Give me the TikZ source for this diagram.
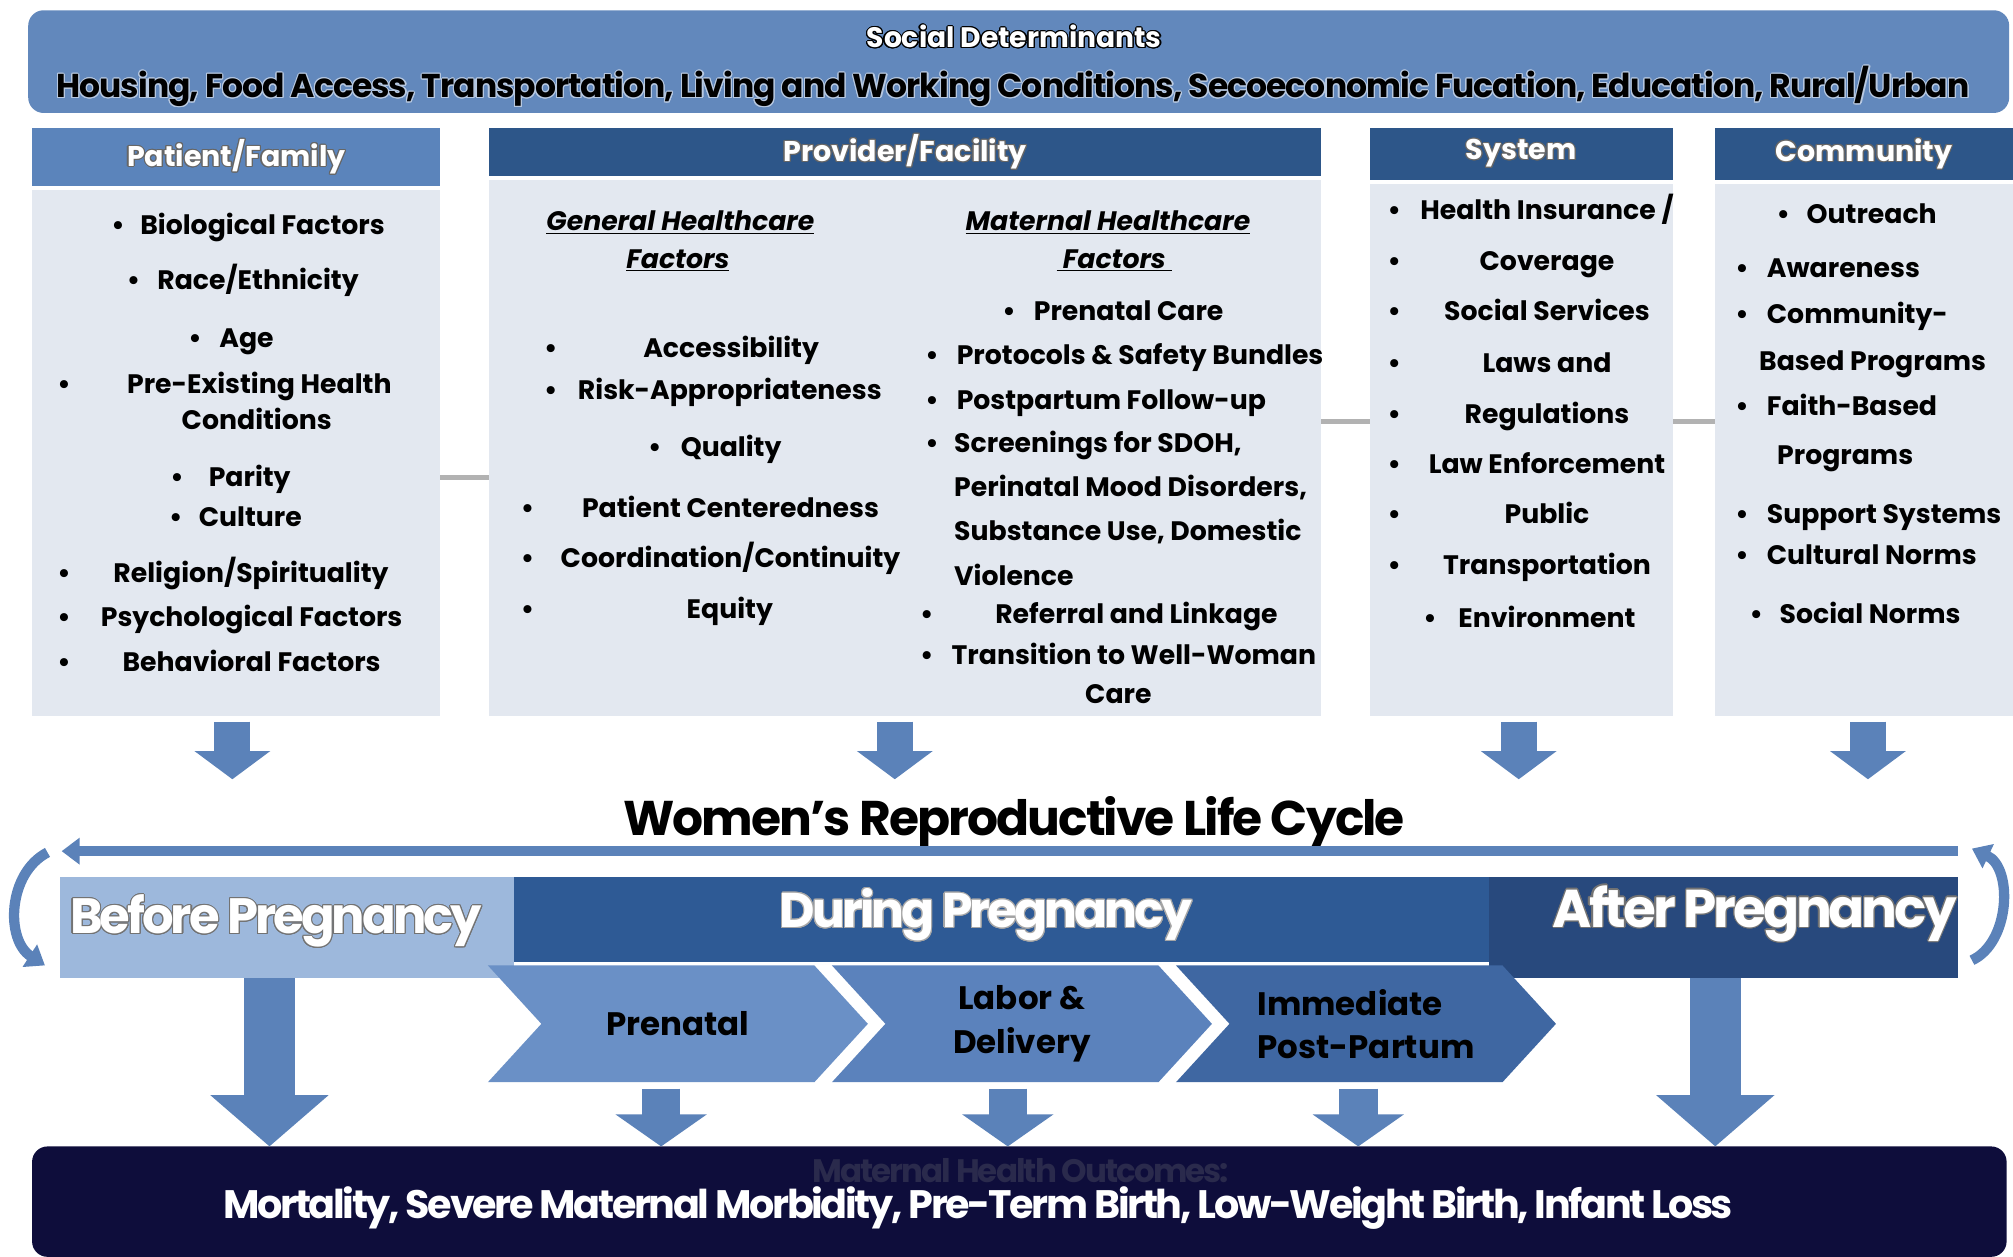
\documentclass[tikz,border=0pt]{standalone}
\usepackage{fontspec}
\setmainfont{Poppins}
\usepackage{contour}
\usetikzlibrary{arrows.meta,shapes.symbols}

\definecolor{banner}{HTML}{6288BC}
\definecolor{pfhead}{HTML}{5B84BB}
\definecolor{colhead}{HTML}{2D5689}
\definecolor{colbody}{HTML}{E3E8F0}
\definecolor{arrowblue}{HTML}{5B82B9}
\definecolor{before}{HTML}{9DB8DC}
\definecolor{during}{HTML}{2E5A95}
\definecolor{after}{HTML}{28497D}
\definecolor{chevA}{HTML}{6A90C6}
\definecolor{chevB}{HTML}{5B82BC}
\definecolor{chevC}{HTML}{3F67A2}
\definecolor{outcome}{HTML}{0E0D3B}
\contourlength{0.6pt}

\begin{document}
\begin{tikzpicture}[x=0.25mm,y=-0.25mm,
    box/.style={inner sep=0pt,outer sep=0pt},
    headbox/.style={box,fill=colhead,minimum height=10mm,text=white,font=\fontsize{15.8}{18}\selectfont\bfseries},
    bodybox/.style={box,fill=colbody},
    item/.style={inner sep=0pt,anchor=base,yshift=-1.7mm,font=\fontsize{14.8}{17}\selectfont\bfseries},
    itemw/.style={item,anchor=base west},
    subhead/.style={item,font=\fontsize{14.8}{17}\selectfont\bfseries\itshape},
    linkdash/.style={draw=gray!60,line width=1mm},
    colarrow/.style={draw=arrowblue,line width=7mm,-{Triangle[width=14.5mm,length=5.5mm]}},
    bigarrow/.style={draw=arrowblue,line width=10mm,-{Triangle[width=22.5mm,length=10mm]}},
    smallarrow/.style={draw=arrowblue,line width=7.5mm,-{Triangle[width=17.5mm,length=6.25mm]}},
    cycleline/.style={draw=arrowblue,line width=2mm,-{Triangle[width=5mm,length=3.5mm]}},
    phasetext/.style={inner sep=0pt,text=white,font=\fontsize{27.5}{30}\selectfont\bfseries\addfontfeatures{LetterSpace=-6}},
    chev/.style={box,signal,signal to=east,signal from=west,signal pointer angle=95,
      minimum width=74mm,minimum height=22.75mm,font=\fontsize{18}{24}\selectfont\bfseries}]

  \fill[white] (0,0) rectangle (1568,979);
  \useasboundingbox (0,0) rectangle (1568,979);

  \node[box,fill=banner,rounded corners=3mm,minimum width=385.75mm,minimum height=20mm] (sd) at (793.5,48) {};
  \node[inner sep=0pt,text=white,font=\fontsize{15.6}{18}\selectfont\bfseries] (sdt) at (790,29) {\contour{black}{Social Determinants}};
  \node[inner sep=0pt,font=\fontsize{18.3}{20}\selectfont\bfseries\addfontfeatures{LetterSpace=-3}] (sdl) at (789,68)
    {\contour{white!55!banner}{Housing, Food Access, Transportation, Living and Working Conditions, Secoeconomic Fucation, Education, Rural/Urban}};

  \node[headbox,fill=pfhead,minimum width=79.5mm,minimum height=11.25mm] (pfh) at (184,122.5) {\contour{black!60}{Patient/Family}};
  \node[bodybox,minimum width=79.5mm,minimum height=102.5mm] (pfb) at (184,353) {};
  \node[headbox,minimum width=162mm,minimum height=9.25mm] (pvh) at (705,118.5) {\contour{black!60}{Provider/Facility}};
  \node[bodybox,minimum width=162mm,minimum height=104.5mm] (pvb) at (705,349) {};
  \node[headbox,minimum width=59mm] (syh) at (1185,120) {\contour{black!60}{System}};
  \node[bodybox,minimum width=59mm,minimum height=103.75mm] (syb) at (1185,350.5) {};
  \node[headbox,minimum width=58mm] (cmh) at (1452,120) {\contour{black!60}{Community}};
  \node[bodybox,minimum width=58mm,minimum height=103.75mm] (cmb) at (1452,350.5) {};

  \draw[linkdash] (pfb.east |- 0,372) -- (pvb.west |- 0,372);
  \draw[linkdash] (pvb.east |- 0,328) -- (syb.west |- 0,328);
  \draw[linkdash] (syb.east |- 0,328) -- (cmb.west |- 0,328);

  % patient/family
  \foreach \x/\y [count=\i] in {92/176,104/219,152/264,50/300,138/372,137/403,50/447,50/481,50/516}
    \node[item] (pfd\i) at (\x,\y) {\textbullet};
  \foreach \x/\y/\t [count=\i] in {204.5/176/Biological Factors,201/219/{Race/Ethnicity},192/264/Age,
      202/300/Pre-Existing Health,200/328/Conditions,194.5/372/Parity,195/403/Culture,
      195.5/447/{Religion/Spirituality},196/481/Psychological Factors,196/516/Behavioral Factors}
    \node[item] (pf\i) at (\x,\y) {\t};

  % provider/facility
  \node[subhead] (gh1) at (530,173) {\underline{General Healthcare}};
  \node[subhead] (gh2) at (528,202) {\underline{Factors}};
  \node[subhead] (mh1) at (863,173) {\underline{Maternal Healthcare}};
  \node[subhead] (mh2) at (868,202) {\underline{\ Factors\ }};
  \foreach \x/\y [count=\i] in {429/272,429/304,510/349,411/396,411/435,411/475}
    \node[item] (gfd\i) at (\x,\y) {\textbullet};
  \foreach \x/\y/\t [count=\i] in {569.5/272/Accessibility,568.5/304/Risk-Appropriateness,569.5/349/Quality,
      569/396/Patient Centeredness,569/435/{Coordination/Continuity},568.5/475/Equity}
    \node[item] (gf\i) at (\x,\y) {\t};
  \foreach \x/\y [count=\i] in {786/243,726/277,726/312,726/346,722/479,722/511}
    \node[item] (mfd\i) at (\x,\y) {\textbullet};
  \foreach \x/\y/\t [count=\i] in {805/243/Prenatal Care,745/277/Protocols \& Safety Bundles,745/312/Postpartum Follow-up,
      743/346/{Screenings for SDOH,},743/380/{Perinatal Mood Disorders,},743/414/{Substance Use, Domestic},
      743/449/Violence,775/479/Referral and Linkage,741/511/Transition to Well-Woman,845/541/Care}
    \node[itemw] (mf\i) at (\x,\y) {\t};

  % system
  \foreach \x/\y [count=\i] in {1086/164,1086/204,1086/243,1086/283,1086/323,1086/362,1086/401,1086/441,1114/482}
    \node[item] (syd\i) at (\x,\y) {\textbullet};
  \foreach \y/\t [count=\i] in {164/{Health Insurance /},204/Coverage,243/Social Services,283/Laws and,323/Regulations,
      362/Law Enforcement,401/Public,441/Transportation,482/Environment}
    \node[item] (sy\i) at (1205,\y) {\t};

  % community
  \foreach \x/\y [count=\i] in {1389/167,1357/209,1357/245,1357/317,1357/401,1357/433,1368/479}
    \node[item] (cmd\i) at (\x,\y) {\textbullet};
  \foreach \x/\y/\t [count=\i] in {1407/167/Outreach,1376/209/Awareness,1376/245/Community-,1370/282/Based Programs,
      1376/317/Faith-Based,1384/355/Programs,1376/401/Support Systems,1376/433/Cultural Norms,1386/479/Social Norms}
    \node[itemw] (cm\i) at (\x,\y) {\t};

  \coordinate (lc) at (0,607);
  \draw[colarrow] ([xshift=-0.75mm,yshift=-1mm]pfb.south) -- ([xshift=-0.75mm]pfb.south |- lc);
  \draw[colarrow] ([xshift=-2mm,yshift=-1mm]pvb.south) -- ([xshift=-2mm]pvb.south |- lc);
  \draw[colarrow] ([xshift=-0.5mm,yshift=-1mm]syb.south) -- ([xshift=-0.5mm]syb.south |- lc);
  \draw[colarrow] ([xshift=0.75mm,yshift=-1mm]cmb.south) -- ([xshift=0.75mm]cmb.south |- lc);

  \node[inner sep=0pt,font=\fontsize{27}{30}\selectfont\bfseries\addfontfeatures{LetterSpace=-4}] (lct) at (790,641) {Women's Reproductive Life Cycle};

  \coordinate (cyr) at (1525,663);
  \coordinate (cyl) at (48,663);
  \coordinate (lat) at (37,664);
  \coordinate (lab) at (35,752);
  \coordinate (rab) at (1536,748);
  \coordinate (rat) at (1536,661);
  \draw[cycleline] (cyr) -- (cyl);
  \draw[cycleline] (lat) .. controls (6,680) and (4,732) .. (lab);
  \draw[cycleline] (rab) .. controls (1566,734) and (1568,676) .. (rat);

  \node[box,fill=before,minimum width=88.25mm,minimum height=19.75mm] (bef) at (223.5,722.5) {};
  \node[box,fill=during,minimum width=190mm,minimum height=16.5mm] (dur) at (780,716) {};
  \node[box,fill=after,minimum width=91.25mm,minimum height=19.75mm] (aft) at (1342.5,722.5) {};
  \node[phasetext] (beft) at (215,718) {\contour{black!55}{Before Pregnancy}};
  \node[phasetext,font=\fontsize{27}{30}\selectfont\bfseries\addfontfeatures{LetterSpace=-6}] (durt) at (768,713) {\contour{black!35}{During Pregnancy}};
  \node[phasetext,font=\fontsize{29.5}{32}\selectfont\bfseries\addfontfeatures{LetterSpace=-6}] (aftt) at (1367,712) {\contour{black!55}{After Pregnancy}};

  \node[chev,fill=chevA] (pre) at (528,797.5) {Prenatal};
  \node[chev,fill=chevB,align=center] (ld) at (796,797.5) {Labor \&\\Delivery};
  \node[chev,fill=chevC,align=left] (imm) at (1064,797.5) {Immediate\\Post-Partum};

  \node[box,fill=outcome,rounded corners=3mm,minimum width=384.5mm,minimum height=21.5mm] (outc) at (794,936) {};
  \node[inner sep=0pt,text=outcome!75!gray,font=\fontsize{18}{22}\selectfont\bfseries\addfontfeatures{LetterSpace=-6}] (outh) at (795,912) {Maternal Health Outcomes:};
  \node[inner sep=0pt,text=white,font=\fontsize{22}{26}\selectfont\bfseries\addfontfeatures{LetterSpace=-6}] (outt) at (762,941)
    {Mortality, Severe Maternal Morbidity, Pre-Term Birth, Low-Weight Birth, Infant Loss};

  \draw[bigarrow] ([xshift=-3.4mm]bef.south) -- ([xshift=-3.4mm]bef.south |- outc.north);
  \draw[bigarrow] ([xshift=-1.6mm]aft.south) -- ([xshift=-1.6mm]aft.south |- outc.north);
  \draw[smallarrow] ([xshift=-3.25mm,yshift=-1.25mm]pre.south) -- ([xshift=-3.25mm]pre.south |- outc.north);
  \draw[smallarrow] ([xshift=-2.75mm,yshift=-1.25mm]ld.south) -- ([xshift=-2.75mm]ld.south |- outc.north);
  \draw[smallarrow] ([xshift=-1.5mm,yshift=-1.25mm]imm.south) -- ([xshift=-1.5mm]imm.south |- outc.north);
\end{tikzpicture}
\end{document}
